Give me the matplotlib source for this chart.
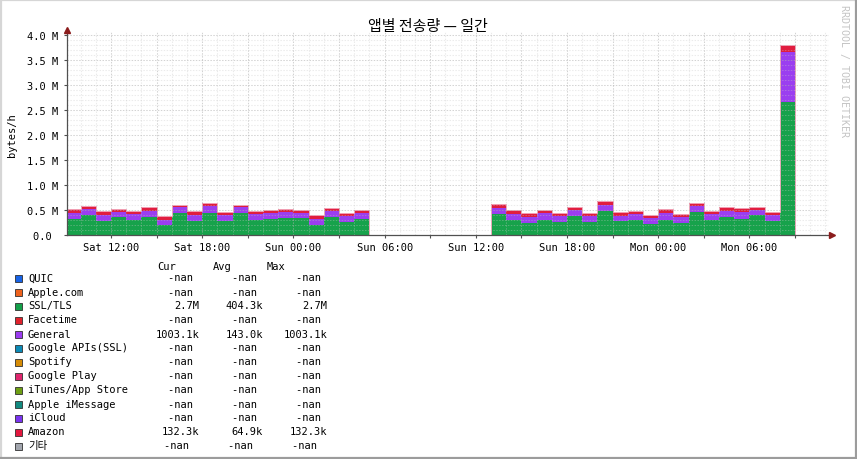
import numpy as np
import matplotlib
matplotlib.use('Agg')
import matplotlib.pyplot as plt
from matplotlib.patches import Rectangle
from matplotlib.lines import Line2D

W_ = 857
H_ = 460
MONO = ['DejaVu Sans Mono', 'Noto Sans CJK KR']
fs_ = 7.5

# hourly buckets, hours counted from Sat 00:00
start_hr = 9
nan = np.nan

# SSL/TLS (bottom), General (middle), Amazon (top), in M bytes/h
ssl_tls = [0.33, 0.40, 0.29, 0.355, 0.30, 0.37, 0.20, 0.435, 0.29, 0.45,
           0.29, 0.435, 0.31, 0.32, 0.335, 0.335, 0.20, 0.37, 0.27, 0.32,
           nan, nan, nan, nan, nan, nan, nan, nan,
           0.42, 0.31, 0.235, 0.31, 0.27, 0.39, 0.27, 0.49, 0.28, 0.30,
           0.22, 0.31, 0.25, 0.47, 0.30, 0.355, 0.32, 0.40, 0.29, 2.66]
general = [0.105, 0.115, 0.11, 0.10, 0.12, 0.12, 0.11, 0.12, 0.11, 0.13,
           0.11, 0.12, 0.11, 0.115, 0.12, 0.10, 0.12, 0.12, 0.11, 0.13,
           nan, nan, nan, nan, nan, nan, nan, nan,
           0.115, 0.11, 0.12, 0.125, 0.12, 0.11, 0.11, 0.11, 0.11, 0.12,
           0.115, 0.14, 0.105, 0.12, 0.12, 0.135, 0.15, 0.10, 0.11, 1.0031]
amazon = [0.085, 0.065, 0.09, 0.065, 0.07, 0.08, 0.08, 0.055, 0.09, 0.07,
          0.07, 0.055, 0.07, 0.065, 0.065, 0.065, 0.08, 0.06, 0.07, 0.05,
          nan, nan, nan, nan, nan, nan, nan, nan,
          0.085, 0.08, 0.095, 0.065, 0.06, 0.07, 0.07, 0.09, 0.08, 0.07,
          0.065, 0.07, 0.065, 0.06, 0.07, 0.08, 0.07, 0.07, 0.07, 0.1323]

x_ticks = [12, 18, 24, 30, 36, 42, 48, 54]
x_labels = ['Sat 12:00', 'Sat 18:00', 'Sun 00:00', 'Sun 06:00',
            'Sun 12:00', 'Sun 18:00', 'Mon 00:00', 'Mon 06:00']
y_ticks = [0, 0.5, 1.0, 1.5, 2.0, 2.5, 3.0, 3.5, 4.0]
y_labels = ['0.0 ', '0.5 M', '1.0 M', '1.5 M', '2.0 M', '2.5 M',
            '3.0 M', '3.5 M', '4.0 M']

leg_names = ['QUIC', 'Apple.com', 'SSL/TLS', 'Facetime', 'General',
             'Google APIs(SSL)', 'Spotify', 'Google Play', 'iTunes/App Store',
             'Apple iMessage', 'iCloud', 'Amazon', '기타']
leg_colors = ['#1763e6', '#ee621c', '#14a04a', '#e0222c', '#9b3cf0',
              '#0c8ab6', '#d68c06', '#e0266e', '#6e9f14', '#128a80',
              '#7a34f0', '#e3173e', '#a2a6ae']
leg_cur = ['-nan ', '-nan ', '2.7M', '-nan ', '1003.1k', '-nan ', '-nan ',
           '-nan ', '-nan ', '-nan ', '-nan ', '132.3k', '-nan ']
leg_avg = ['-nan ', '-nan ', '404.3k', '-nan ', '143.0k', '-nan ', '-nan ',
           '-nan ', '-nan ', '-nan ', '-nan ', '64.9k', '-nan ']
leg_max = ['-nan ', '-nan ', '2.7M', '-nan ', '1003.1k', '-nan ', '-nan ',
           '-nan ', '-nan ', '-nan ', '-nan ', '132.3k', '-nan ']

GREEN = '#17a24b'
PURPLE = '#9b3ef0'
RED = '#e11d3f'


def px(x, y):
    return x / W_, 1 - y / H_


fig = plt.figure(figsize=(W_ / 100, H_ / 100), dpi=100, facecolor='white')

# plot area 67..829 x 33..236 px
ax = fig.add_axes([67 / W_, (H_ - 236) / H_, (829 - 67) / W_, (236 - 33) / H_])
ax.set_facecolor('white')
x_min = 9.1
x_max = 59.24
ax.set_xlim(x_min, x_max)
ax.set_ylim(0, 4.06)

hrs = start_hr + np.arange(len(ssl_tls))
g = np.array(ssl_tls)
p = np.array(general)
r = np.array(amazon)
ok = ~np.isnan(g)

ax.bar(hrs[ok], g[ok], width=1, align='edge', color=GREEN, linewidth=0, zorder=2)
ax.bar(hrs[ok], p[ok], bottom=g[ok], width=1, align='edge', color=PURPLE,
       linewidth=0, zorder=2)
ax.bar(hrs[ok], r[ok], bottom=(g + p)[ok], width=1, align='edge', color=RED,
       linewidth=0, zorder=2)

# light outline on top of the stack, one piece per data block
tot = g + p + r
blocks = []
cur = []
for i in range(len(tot)):
    if np.isnan(tot[i]):
        if cur:
            blocks.append(cur)
        cur = []
    else:
        cur.append(i)
if cur:
    blocks.append(cur)
for b in blocks:
    edges = np.append(hrs[b], hrs[b[-1]] + 1)
    ax.stairs(tot[b], edges, color='#f2a2b6', linewidth=0.7, zorder=3)

# grid on top of the graph, dotted
dash_ = (0, (1.4, 1.4))
for h in range(10, 60):
    if h % 3 == 0:
        ax.axvline(h, color='#b0b0b0', alpha=0.55, lw=0.75, ls=dash_, zorder=4)
    else:
        ax.axvline(h, color='#c8c8c8', alpha=0.35, lw=0.75, ls=dash_, zorder=4)
for k in range(1, 41):
    yv = k * 0.1
    if k % 5 == 0:
        ax.axhline(yv, color='#b0b0b0', alpha=0.55, lw=0.75, ls=dash_, zorder=4)
    else:
        ax.axhline(yv, color='#c8c8c8', alpha=0.35, lw=0.75, ls=dash_, zorder=4)

for s in ax.spines.values():
    s.set_visible(False)

# axis lines with arrow heads
ax.plot([x_min, x_max + 0.2], [0, 0], color='#505050', lw=0.9, clip_on=False, zorder=5)
ax.plot([x_min, x_min], [0, 4.1], color='#505050', lw=0.9, clip_on=False, zorder=5)
ax.plot([x_max + 0.2], [0], marker='>', ms=4, color='#8b1c1c', clip_on=False, zorder=6)
ax.plot([x_min], [4.1], marker='^', ms=4, color='#8b1c1c', clip_on=False, zorder=6)

ax.set_xticks(x_ticks)
ax.set_xticklabels(x_labels, family=MONO, fontsize=fs_)
ax.set_xticks([h for h in range(12, 59, 3)], minor=True)
ax.set_yticks(y_ticks)
ax.set_yticklabels(y_labels, family=MONO, fontsize=fs_)
ax.tick_params(axis='x', which='both', direction='out', length=2, width=0.8,
               color='#505050', pad=3)
ax.tick_params(axis='y', which='major', direction='out', length=2.5, width=0.8,
               color='#505050', pad=4)

fig.text(*px(12, 135), 'bytes/h', family=MONO, fontsize=fs_, rotation=90,
         ha='center', va='center')

fig.text(*px(428, 27), '앱별 전송량 — 일간', family=['Noto Sans CJK KR', 'DejaVu Sans'],
         fontsize=10.8, ha='center', va='center')

fig.text(*px(844, 71), 'RRDTOOL / TOBI OETIKER', family=MONO, fontsize=7.2,
         rotation=270, ha='center', va='center', color='#c4c4c4')

# legend table
fig.text(*px(157, 270), 'Cur', family=MONO, fontsize=fs_, ha='left', va='baseline')
fig.text(*px(213, 270), 'Avg', family=MONO, fontsize=fs_, ha='left', va='baseline')
fig.text(*px(267, 270), 'Max', family=MONO, fontsize=fs_, ha='left', va='baseline')

for i in range(len(leg_names)):
    base_y = 281.5 + 14 * i
    sx, sy = px(15, 283 + 14 * i)
    fig.patches.append(Rectangle((sx, sy), 7 / W_, 7 / H_, transform=fig.transFigure,
                                 facecolor=leg_colors[i], edgecolor='#303030',
                                 linewidth=0.6))
    shift = -4 if leg_names[i] == '기타' else 0
    fig.text(*px(28, base_y), leg_names[i], family=MONO, fontsize=fs_,
             ha='left', va='baseline')
    fig.text(*px(199 + shift, base_y), leg_cur[i], family=MONO, fontsize=fs_,
             ha='right', va='baseline')
    fig.text(*px(263 + shift, base_y), leg_avg[i], family=MONO, fontsize=fs_,
             ha='right', va='baseline')
    fig.text(*px(327 + shift, base_y), leg_max[i], family=MONO, fontsize=fs_,
             ha='right', va='baseline')

# 3d-ish frame around the image
fig.lines.append(Line2D([0, 1], [1 - 1 / H_, 1 - 1 / H_], transform=fig.transFigure,
                        color='#d6d6d6', lw=1.6))
fig.lines.append(Line2D([1 / W_, 1 / W_], [0, 1], transform=fig.transFigure,
                        color='#d6d6d6', lw=1.6))
fig.lines.append(Line2D([0, 1], [1 / H_, 1 / H_], transform=fig.transFigure,
                        color='#9c9c9c', lw=1.6))
fig.lines.append(Line2D([1 - 1 / W_, 1 - 1 / W_], [0, 1], transform=fig.transFigure,
                        color='#9c9c9c', lw=1.6))

fig.savefig('out.png', dpi=100, facecolor='white')
